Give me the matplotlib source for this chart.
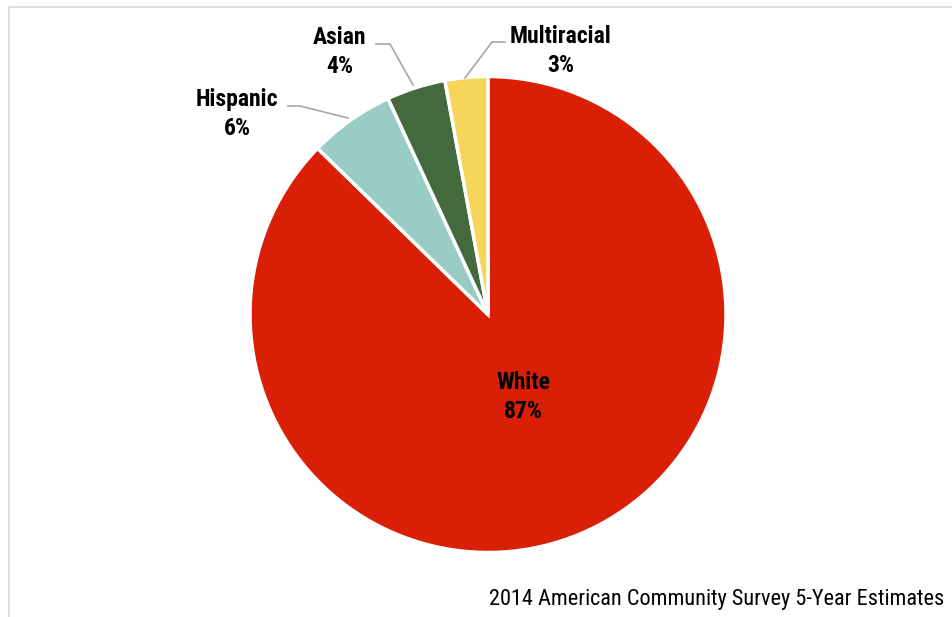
import matplotlib
matplotlib.use("Agg")
import matplotlib.pyplot as plt
from matplotlib import font_manager

categories = ["White", "Hispanic", "Asian", "Multiracial"]
values = [87.3, 5.8, 4.0, 2.9]
pct_labels = ["87%", "6%", "4%", "3%"]
colors = ["#D91F05", "#99CCC4", "#44693D", "#F5D65A"]
source = "2014 American Community Survey 5-Year Estimates"

names = {f.name for f in font_manager.fontManager.ttflist}
narrow = next((n for n in ["Roboto Condensed", "PT Sans Narrow", "Liberation Sans"] if n in names), "DejaVu Sans")

W, H = 953, 617
fig = plt.figure(figsize=(W / 100, H / 100), dpi=100)
ax = fig.add_axes([0, 0, 1, 1])

def Y(y):
    return H - y

cx, cy, r = 488, 314.5, 238
ax.pie(values, colors=colors, startangle=90, counterclock=False,
       center=(cx, Y(cy)), radius=r, frame=True,
       wedgeprops=dict(edgecolor="white", linewidth=2.5))
ax.set_xlim(0, W)
ax.set_ylim(0, H)
ax.set_aspect("auto")
ax.axis("off")

# frame lines
ax.plot([9.5, 9.5], [Y(7), Y(H + 5)], color="#D9D9D9", lw=1.2, solid_capstyle="butt")
ax.plot([9.5, W + 5], [Y(7), Y(7)], color="#D9D9D9", lw=1.2, solid_capstyle="butt")

fs = 17
lab_pos = {
    "White": (523, 397),
    "Hispanic": (237, 114),
    "Asian": (340, 52),
    "Multiracial": (561, 51),
}
for c, p in zip(categories, pct_labels):
    x, y = lab_pos[c]
    ax.text(x, Y(y), f"{c}\n{p}", ha="center", va="center", fontsize=fs,
            fontweight="bold", family=[narrow, "DejaVu Sans"], linespacing=1.3,
            color="black")

leaders = {
    "Hispanic": [(288, 106), (300, 106), (348, 118)],
    "Asian": [(376, 44), (390, 44), (413, 85)],
    "Multiracial": [(505, 42), (492, 42), (465, 78)],
}
for c, pts in leaders.items():
    ax.plot([p[0] for p in pts], [Y(p[1]) for p in pts], color="#A6A6A6", lw=1.2)

ax.text(944, Y(600), source, ha="right", va="center", fontsize=16,
        family=[narrow, "DejaVu Sans"], color="black")

fig.savefig("out.png", dpi=100)
